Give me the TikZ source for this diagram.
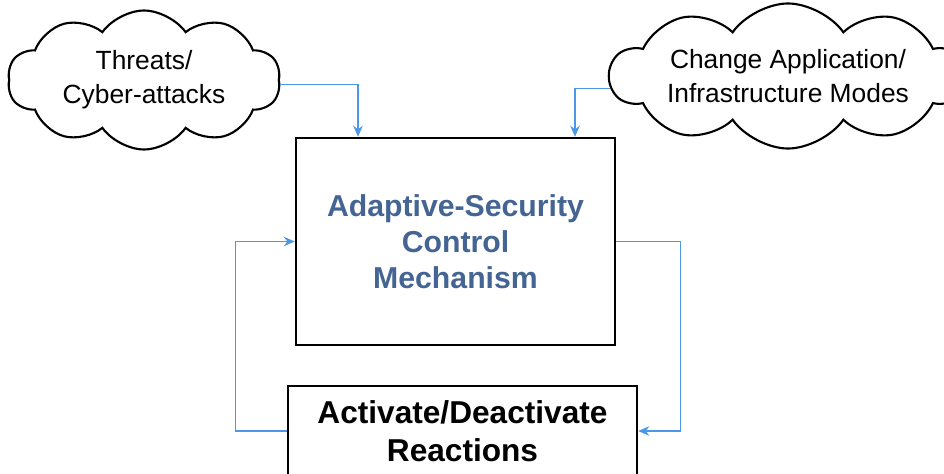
\documentclass[tikz,border=0pt]{standalone}
\usepackage{fontspec}
\setmainfont{Liberation Sans}
\usetikzlibrary{shapes.symbols,arrows.meta}
\definecolor{flowblue}{RGB}{74,152,230}
\definecolor{titleblue}{RGB}{68,101,148}
\begin{document}
\begin{tikzpicture}[
  cloudbox/.style={cloud,draw,line width=1.2pt,cloud puffs=10,cloud puff arc=110,cloud ignores aspect,align=center,font=\fontsize{15}{19.3}\selectfont},
  flow/.style={flowblue,line width=0.8pt,-{Stealth[length=2.2mm,width=1.9mm]}}]
  \useasboundingbox (0,0) rectangle (18.88,9.46);
  \node[cloudbox,minimum width=5.45cm,minimum height=2.78cm] (threats) at (2.88,7.86) {Threats/\\Cyber-attacks};
  \node[cloudbox,minimum width=5.95cm,minimum height=2.72cm] (modes) at (15.76,7.94) {Change Application/\\Infrastructure Modes};
  \node[draw,line width=1.4pt,minimum width=6.38cm,minimum height=4.14cm,align=center,text=titleblue,font=\fontsize{17.2}{20.4}\selectfont\bfseries] (ctrl) at (9.11,4.63) {Adaptive-Security\\Control\\Mechanism};
  \node[draw,line width=1.4pt,minimum width=6.98cm,minimum height=1.8cm,align=center,font=\fontsize{18}{21.5}\selectfont\bfseries] (react) at (9.25,0.84) {Activate/Deactivate\\Reactions};
  \draw[flow] (threats.-2) -| ([xshift=-1.95cm]ctrl.north);
  \draw[flow] (modes.184) -| ([xshift=2.39cm]ctrl.north);
  \draw[flow] (ctrl.east) -- ++(1.28,0) |- (react.east);
  \draw[flow] (react.west) -- ++(-1.02,0) |- (ctrl.west);
\end{tikzpicture}
\end{document}
